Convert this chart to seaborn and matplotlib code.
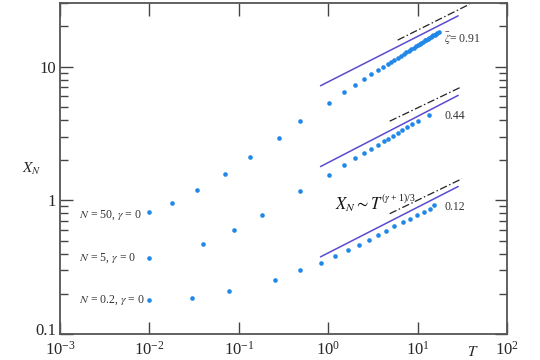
import matplotlib
matplotlib.use("Agg")
import matplotlib.pyplot as plt
import matplotlib.ticker as mticker
import matplotlib.transforms as mtransforms
import numpy as np
import pandas as pd
import seaborn as sns

# simulation points, three runs
T_n02 = [0.01, 0.030, 0.078, 0.257, 0.487, 0.82, 1.2, 1.67, 2.21, 2.89, 3.61, 4.48,
         5.5, 6.88, 8.24, 9.87, 11.8, 13.6, 15.4]
X_n02 = [0.18, 0.187, 0.21, 0.253, 0.30, 0.340, 0.382, 0.423, 0.467, 0.509, 0.555,
         0.594, 0.640, 0.693, 0.730, 0.782, 0.824, 0.867, 0.918]

T_n5 = [0.01, 0.040, 0.0895, 0.184, 0.487, 1.01, 1.49, 2.01, 2.49, 3.04, 3.57, 4.17,
        4.71, 5.31, 5.98, 6.76, 7.62, 8.67, 10.1, 13.3]
X_n5 = [0.373, 0.475, 0.597, 0.777, 1.17, 1.55, 1.85, 2.07, 2.27, 2.44, 2.60, 2.76,
        2.90, 3.04, 3.20, 3.37, 3.52, 3.74, 3.95, 4.38]

T_n50 = [0.01, 0.018, 0.0345, 0.0698, 0.135, 0.281, 0.487, 1.01, 1.49, 2.01, 2.49,
         3.03, 3.57, 4.13, 4.64, 5.0, 5.5, 6.0, 6.5, 7.0, 7.5, 8.0, 8.5, 9.0, 9.5,
         10.0, 10.5, 11.0, 11.5, 12.0, 12.5, 13.0, 13.5, 14.0, 14.5, 15.0, 15.5,
         16.0, 16.5, 17.2]
X_n50 = [0.818, 0.961, 1.19, 1.58, 2.10, 2.95, 3.91, 5.36, 6.47, 7.34, 8.09, 8.76,
         9.38, 10.0, 10.5, 10.8, 11.3, 11.7, 12.1, 12.5, 12.8, 13.2, 13.5, 13.9,
         14.2, 14.5, 14.8, 15.1, 15.4, 15.7, 15.9, 16.2, 16.4, 16.7, 16.9, 17.2,
         17.4, 17.6, 17.9, 18.3]

# guide lines (end points), slope (gamma+1)/3
solid_T = [0.82, 28.4]
solid_X = [[7.2, 24.0], [1.79, 6.1], [0.378, 1.27]]
dash_T = [[5.98, 38.0], [4.87, 30.7], [4.87, 31.2]]
dash_X = [[15.8, 29.3], [3.91, 7.05], [0.795, 1.45]]

labels = [r"$N$ = 50, $\gamma$ = 0", r"$N$ = 5, $\gamma$ = 0", r"$N$ = 0.2, $\gamma$ = 0"]
label_y = [0.773, 0.369, 0.179]
zeta_text = [r"$\bar{\zeta}$= 0.91", "0.44", "0.12"]
zeta_y = [16.2, 4.24, 0.887]

df = pd.concat([
    pd.DataFrame({"T": T_n50, "X": X_n50, "run": "50"}),
    pd.DataFrame({"T": T_n5, "X": X_n5, "run": "5"}),
    pd.DataFrame({"T": T_n02, "X": X_n02, "run": "0.2"}),
])

sns.set_style("ticks")
plt.rcParams["font.family"] = ["Liberation Serif", "DejaVu Serif"]
plt.rcParams["mathtext.fontset"] = "stix"

fig = plt.figure(figsize=(5.4, 3.6), dpi=100)
ax = fig.add_axes([0.111, 0.072, 0.828, 0.920])

sns.scatterplot(data=df, x="T", y="X", color="#2188e8", s=11, linewidth=0, ax=ax, legend=False)

for ys in solid_X:
    ax.plot(solid_T, ys, color="#5a4bd0", lw=1.1)
for xs, ys in zip(dash_T, dash_X):
    ax.plot(xs, ys, color="#222222", lw=0.9, ls=(0, (6, 2, 1.2, 2)))

ax.set_xscale("log")
ax.set_yscale("log")
ax.set_xlim(1e-3, 1e2)
ax.set_ylim(0.1, 30)
ax.set_xlabel("")
ax.set_ylabel("")

ax.xaxis.set_major_locator(mticker.LogLocator(base=10, numticks=10))
ax.xaxis.set_minor_locator(mticker.NullLocator())
ax.yaxis.set_major_locator(mticker.FixedLocator([0.1, 1, 10]))
ax.yaxis.set_major_formatter(mticker.FixedFormatter(["0.1", "1", "10"]))
ax.yaxis.set_minor_locator(mticker.LogLocator(base=10, subs=np.arange(2, 10), numticks=10))
ax.yaxis.set_minor_formatter(mticker.NullFormatter())

ax.tick_params(which="both", direction="in", top=True, right=True, color="#444444",
               labelsize=12)
ax.tick_params(axis="x", pad=5)
ax.tick_params(axis="y", pad=3)
ax.tick_params(which="major", length=9, width=1)
ax.tick_params(which="minor", length=6, width=1)
for sp in ax.spines.values():
    sp.set_color("#555555")
    sp.set_linewidth(1.3)

# lift the bottom y label a little so it clears the x labels
fig.canvas.draw()
lift = mtransforms.ScaledTranslation(0, 4 / 72, fig.dpi_scale_trans)
lbl = ax.yaxis.get_majorticklabels()[0]
lbl.set_transform(lbl.get_transform() + lift)

for t, y in zip(labels, label_y):
    ax.text(0.00163, y, t, fontsize=8.5, color="#333333", va="center")
for t, y in zip(zeta_text, zeta_y):
    ax.text(19.8, y, t, fontsize=8.5, color="#333333", va="center")

# power-law annotation
ax.text(1.2, 0.857, r"$X_N \sim T$", fontsize=12, color="#111111", va="baseline")
ax.text(3.85, 1.0, r"$(\gamma$ + 1)/3", fontsize=7, color="#111111", va="baseline")

ax.text(0.924, -0.054, "$T$", transform=ax.transAxes, fontsize=11, ha="center", va="center")
ax.text(-0.063, 0.50, "$X_N$", transform=ax.transAxes, fontsize=11, ha="center", va="center")

fig.savefig("out.png", dpi=100)
